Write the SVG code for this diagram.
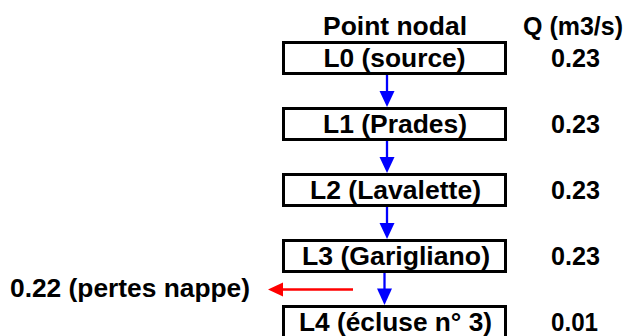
<svg xmlns="http://www.w3.org/2000/svg" width="632" height="336" viewBox="0 0 632 336">
  <style>
    text { font-family: "Liberation Sans", Arial, sans-serif; font-weight: bold; font-size: 25px; fill: #000; }
    .box { fill: #fff; stroke: #000; stroke-width: 3; }
    .mid { text-anchor: middle; }
    .blue { stroke: #0000ff; stroke-width: 2.3; fill: none; }
    .bhead { fill: #0000ff; }
    .red { stroke: #ff0000; stroke-width: 2.6; fill: none; }
    .rhead { fill: #ff0000; }
  </style>
  <rect width="632" height="336" fill="#fff"/>
  <g id="headers">
    <text x="323" y="35" textLength="144" lengthAdjust="spacingAndGlyphs">Point nodal</text>
    <text x="523" y="35" textLength="100" lengthAdjust="spacingAndGlyphs">Q (m3/s)</text>
  </g>
  <g id="connectors">
    <line class="blue" x1="387" y1="75" x2="387" y2="93"/>
    <polygon class="bhead" points="379.5,91 394.5,91 387,107"/>
    <line class="blue" x1="387" y1="141" x2="387" y2="159"/>
    <polygon class="bhead" points="379.5,157 394.5,157 387,173"/>
    <line class="blue" x1="387" y1="207" x2="387" y2="225"/>
    <polygon class="bhead" points="379.5,223 394.5,223 387,239"/>
    <line class="blue" x1="384.5" y1="273" x2="384.5" y2="291"/>
    <polygon class="bhead" points="377,288.5 392,288.5 384.5,305"/>
    <line class="red" x1="281" y1="289.5" x2="353" y2="289.5"/>
    <polygon class="rhead" points="268,289.5 283,282.5 283,296.5"/>
  </g>
  <g id="L0">
    <rect class="box" x="283.5" y="42.5" width="222" height="31"/>
    <text class="mid" x="394.5" y="67" textLength="142" lengthAdjust="spacingAndGlyphs">L0 (source)</text>
    <text x="551" y="67" textLength="49" lengthAdjust="spacingAndGlyphs">0.23</text>
  </g>
  <g id="L1">
    <rect class="box" x="283.5" y="108.5" width="222" height="31"/>
    <text class="mid" x="395" y="133" textLength="144" lengthAdjust="spacingAndGlyphs">L1 (Prades)</text>
    <text x="551" y="133" textLength="49" lengthAdjust="spacingAndGlyphs">0.23</text>
  </g>
  <g id="L2">
    <rect class="box" x="283.5" y="174.5" width="222" height="31"/>
    <text class="mid" x="395.5" y="199" textLength="171" lengthAdjust="spacingAndGlyphs">L2 (Lavalette)</text>
    <text x="551" y="199" textLength="49" lengthAdjust="spacingAndGlyphs">0.23</text>
  </g>
  <g id="L3">
    <rect class="box" x="283.5" y="240.5" width="222" height="31"/>
    <text class="mid" x="396" y="265" textLength="188" lengthAdjust="spacingAndGlyphs">L3 (Garigliano)</text>
    <text x="551" y="265" textLength="49" lengthAdjust="spacingAndGlyphs">0.23</text>
  </g>
  <g id="L4">
    <rect class="box" x="283.5" y="306.5" width="222" height="31"/>
    <text class="mid" x="395.5" y="331" textLength="193" lengthAdjust="spacingAndGlyphs">L4 (écluse n° 3)</text>
    <text x="551" y="331" textLength="47" lengthAdjust="spacingAndGlyphs">0.01</text>
  </g>
  <g id="pertes">
    <text x="10" y="297" textLength="240" lengthAdjust="spacingAndGlyphs">0.22 (pertes nappe)</text>
  </g>
</svg>
